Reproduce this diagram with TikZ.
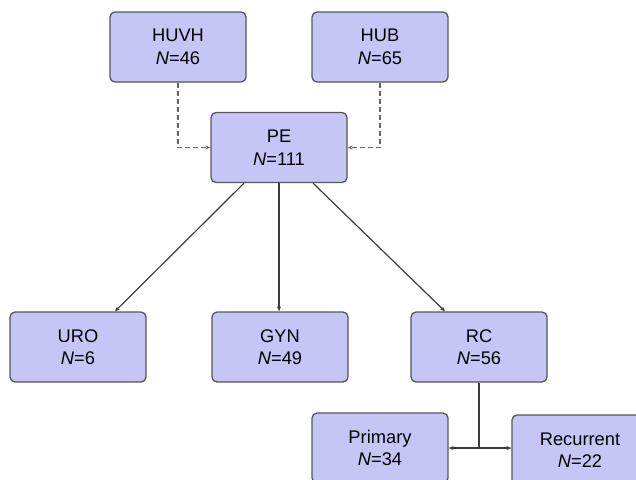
\documentclass[tikz,border=0pt]{standalone}
\usepackage{fontspec}
\setmainfont{Liberation Sans}
\usetikzlibrary{arrows.meta}
\definecolor{boxfill}{RGB}{198,198,246}
\definecolor{boxline}{RGB}{85,85,90}
\definecolor{conn}{RGB}{60,60,60}
\tikzset{
  box/.style={draw=boxline, line width=1.3pt, fill=boxfill, rounded corners=5pt,
    minimum width=136pt, minimum height=70pt, align=center, inner sep=0pt,
    font=\fontsize{18.3}{22.5}\selectfont},
  conarrow/.style={draw=conn, line width=1.2pt, -{Stealth[length=5pt,width=4pt]}},
  dasharrow/.style={draw=conn!80, line width=1.4pt, dash pattern=on 5pt off 3pt, -{Stealth[length=5pt,width=4pt]}}
}
\begin{document}
\begin{tikzpicture}[x=1pt,y=-1pt]
\useasboundingbox (0,0) rectangle (636,479);
\clip (0,0) rectangle (636,479);
\node[box] (HUVH) at (178,47) {HUVH\\\textit{N}=46};
\node[box] (HUB) at (380,47) {HUB\\\textit{N}=65};
\node[box] (PE) at (279,147.5) {PE\\\textit{N}=111};
\node[box] (URO) at (78,347) {URO\\\textit{N}=6};
\node[box] (GYN) at (280,347) {GYN\\\textit{N}=49};
\node[box] (RC) at (479,347) {RC\\\textit{N}=56};
\node[box] (PRIM) at (380,448) {Primary\\\textit{N}=34};
\node[box] (REC) at (580,450) {Recurrent\\\textit{N}=22};
\coordinate (split) at (479,448);
\draw[dasharrow] (HUVH.south) |- (PE.west);
\draw[dasharrow] (HUB.south) |- (PE.east);
\draw[conarrow] ([xshift=-35pt]PE.south) -- ([xshift=37pt]URO.north);
\draw[conarrow] (PE.south) -- (PE.south |- GYN.north);
\draw[conarrow] ([xshift=34pt]PE.south) -- ([xshift=-34pt]RC.north);
\draw[draw=conn, line width=1.2pt] (RC.south) -- (split);
\draw[conarrow] (split) -- (split -| PRIM.east);
\draw[conarrow] (split) -- (split -| REC.west);
\end{tikzpicture}
\end{document}
